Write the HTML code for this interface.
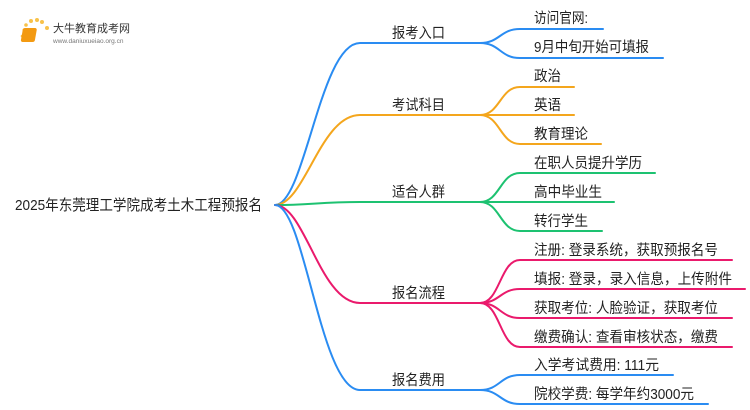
<!DOCTYPE html>
<html><head><meta charset="utf-8"><style>
body{margin:0;width:750px;height:410px;background:#fff;overflow:hidden}
svg{display:block}
text{font-family:"Liberation Sans","Noto Sans CJK SC",sans-serif;fill:#222}
</style></head><body>
<svg width="750" height="410" viewBox="0 0 750 410" xmlns="http://www.w3.org/2000/svg">
<g fill="none" stroke-width="2" stroke-linecap="round">
<path d="M275 205 C305 205 320 43 360 43 L482 43" stroke="#2a8cf2"/>
<path d="M275 205 C305 205 320 115 360 115 L482 115" stroke="#f4a61d"/>
<path d="M275 205 C310 205 320 202 360 202 L482 202" stroke="#1dc271"/>
<path d="M275 205 C305 205 320 303 360 303 L482 303" stroke="#ea1a6c"/>
<path d="M275 205 C305 205 320 390 360 390 L482 390" stroke="#2a8cf2"/>
<g stroke="#2a8cf2">
<path d="M480 43 C500 43 500 29 520 29 L603 29"/>
<path d="M480 43 C500 43 500 58 520 58 L663 58"/>
<path d="M480 390 C500 390 500 375 520 375 L673 375"/>
<path d="M480 390 C500 390 500 404 520 404 L708 404"/>
</g>
<g stroke="#f4a61d">
<path d="M480 115 C500 115 500 87 520 87 L574 87"/>
<path d="M480 115 L574 115"/>
<path d="M480 115 C500 115 500 144 520 144 L601 144"/>
</g>
<g stroke="#1dc271">
<path d="M480 202 C500 202 500 173 520 173 L655 173"/>
<path d="M480 202 L614 202"/>
<path d="M480 202 C500 202 500 231 520 231 L602 231"/>
</g>
<g stroke="#ea1a6c">
<path d="M480 303 C500 303 500 260 520 260 L732 260"/>
<path d="M480 303 C500 303 500 289 520 289 L745 289"/>
<path d="M480 303 C500 303 500 318 520 318 L732 318"/>
<path d="M480 303 C500 303 500 347 520 347 L732 347"/>
</g>
</g>
<g>
<circle cx="24" cy="30" r="1.5" fill="#f8c24a"/><circle cx="26" cy="25" r="1.8" fill="#f8c24a"/>
<circle cx="31" cy="21" r="2" fill="#f8c24a"/><circle cx="37" cy="20" r="2" fill="#f8c24a"/>
<circle cx="42" cy="22" r="2" fill="#f8c24a"/><circle cx="47" cy="28" r="2" fill="#f8c24a"/>
<circle cx="22" cy="36" r="1.3" fill="#f8c24a"/><circle cx="24" cy="41" r="1" fill="#f8c24a"/>
<rect x="28" y="28" width="14" height="14" rx="2" fill="#f39a12" transform="skewX(-10)"/>
</g>
<text x="53" y="32" font-size="11" style="fill:#333">大牛教育成考网</text>
<text x="53" y="43" font-size="6.5" style="fill:#777">www.daniuxueiao.org.cn</text>
<text x="15" y="210" font-size="15" textLength="247" lengthAdjust="spacingAndGlyphs">2025年东莞理工学院成考土木工程预报名</text>
<g font-size="14.5">
<text x="392" y="38" textLength="53" lengthAdjust="spacingAndGlyphs">报考入口</text>
<text x="392" y="110" textLength="53" lengthAdjust="spacingAndGlyphs">考试科目</text>
<text x="392" y="197" textLength="53" lengthAdjust="spacingAndGlyphs">适合人群</text>
<text x="392" y="298" textLength="53" lengthAdjust="spacingAndGlyphs">报名流程</text>
<text x="392" y="385" textLength="53" lengthAdjust="spacingAndGlyphs">报名费用</text>
<text x="534" y="23" textLength="54" lengthAdjust="spacingAndGlyphs">访问官网:</text>
<text x="534" y="52" textLength="115" lengthAdjust="spacingAndGlyphs">9月中旬开始可填报</text>
<text x="534" y="81" textLength="27" lengthAdjust="spacingAndGlyphs">政治</text>
<text x="534" y="110" textLength="27" lengthAdjust="spacingAndGlyphs">英语</text>
<text x="534" y="139" textLength="54" lengthAdjust="spacingAndGlyphs">教育理论</text>
<text x="534" y="168" textLength="108" lengthAdjust="spacingAndGlyphs">在职人员提升学历</text>
<text x="534" y="197" textLength="68" lengthAdjust="spacingAndGlyphs">高中毕业生</text>
<text x="534" y="226" textLength="54" lengthAdjust="spacingAndGlyphs">转行学生</text>
<text x="534" y="255" textLength="184" lengthAdjust="spacingAndGlyphs">注册: 登录系统，获取预报名号</text>
<text x="534" y="284" textLength="198" lengthAdjust="spacingAndGlyphs">填报: 登录，录入信息，上传附件</text>
<text x="534" y="313" textLength="184" lengthAdjust="spacingAndGlyphs">获取考位: 人脸验证，获取考位</text>
<text x="534" y="342" textLength="184" lengthAdjust="spacingAndGlyphs">缴费确认: 查看审核状态，缴费</text>
<text x="534" y="370" textLength="125" lengthAdjust="spacingAndGlyphs">入学考试费用: 111元</text>
<text x="534" y="399" textLength="160" lengthAdjust="spacingAndGlyphs">院校学费: 每学年约3000元</text>
</g>
</svg>
</body></html>
